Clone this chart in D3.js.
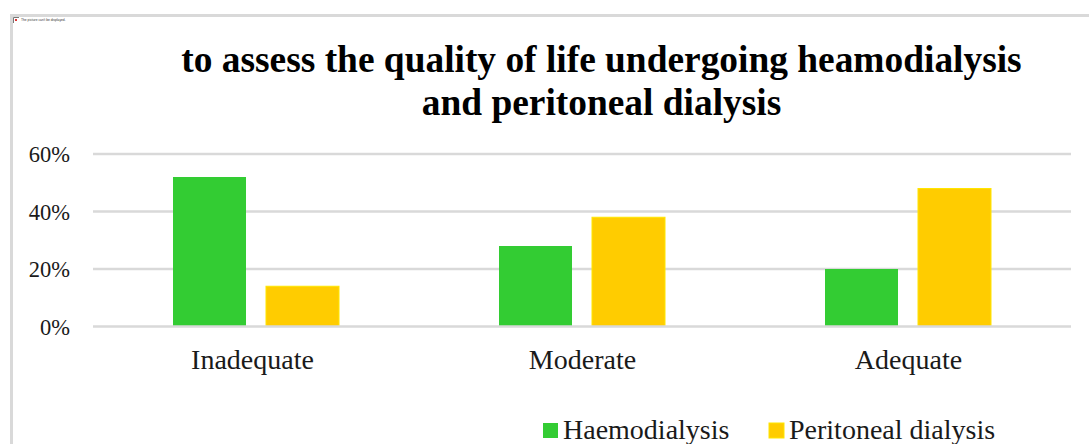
<!DOCTYPE html>
<html>
<head>
<meta charset="utf-8">
<script src="https://cdn.jsdelivr.net/npm/d3@7/dist/d3.min.js"></script>
<style>
html, body { margin: 0; padding: 0; background: #fff; overflow: hidden; }
svg { display: block; font-family: "Liberation Serif", serif; }
</style>
</head>
<body>
<svg id="chart" width="1089" height="444"></svg>
<script>
const categories = ["Inadequate", "Moderate", "Adequate"];
const seriesNames = ["Haemodialysis", "Peritoneal dialysis"];
const haemodialysis = [52, 28, 20];
const peritoneal = [14, 38, 48];
const yTicks = [0, 20, 40, 60];
const titleLines = ["to assess the quality of life undergoing heamodialysis", "and peritoneal dialysis"];
const brokenImageText = "The picture can't be displayed.";

const svg = d3.select("#chart");

// Frame left over from the source document
svg.append("path")
    .attr("d", "M11.5,444V15.5H1089")
    .attr("fill", "none")
    .attr("stroke", "#d9d9d9")
    .attr("stroke-width", 3);

// Broken image placeholder
svg.append("path").attr("d", "M13.5,23V17.5H19")
    .attr("fill", "none").attr("stroke", "#777").attr("stroke-width", 1);
svg.append("rect").attr("x", 15).attr("y", 19).attr("width", 2).attr("height", 2).attr("fill", "#d33");
svg.append("text").attr("x", 21).attr("y", 21)
    .style("font-family", "'Liberation Sans', sans-serif")
    .style("font-size", "3.3px").style("fill", "#333")
    .text(brokenImageText);

// Scales
const x0 = d3.scaleBand().domain(categories).range([93, 1071]);
const x1 = d3.scaleBand().domain(seriesNames).range([0, 166]).paddingInner(0.215);
const y = d3.scaleLinear().domain([0, 60]).range([326.5, 154]);

// Gridlines (the zero line goes on after the bars)
svg.append("g").selectAll("line")
    .data(yTicks.filter(d => d > 0))
    .enter()
    .append("line")
    .attr("x1", 93)
    .attr("x2", 1071)
    .attr("y1", d => y(d))
    .attr("y2", d => y(d))
    .attr("stroke", "#d9d9d9")
    .attr("stroke-width", 2.6);

// Y axis labels
svg.append("g").selectAll("text")
    .data(yTicks)
    .enter()
    .append("text")
    .attr("x", 70)
    .attr("y", d => y(d) + 8)
    .attr("text-anchor", "end")
    .style("font-size", "22.5px")
    .style("fill", "#1a1a1a")
    .text(d => d + "%");

// Bars
const colors = d3.scaleOrdinal().domain(seriesNames).range(["#33cc33", "#ffcc00"]);
const strokes = d3.scaleOrdinal().domain(seriesNames).range(["none", "#ffe600"]);
const seriesValues = [haemodialysis, peritoneal];

seriesNames.forEach((name, s) => {
    svg.append("g").selectAll("rect")
        .data(seriesValues[s])
        .enter()
        .append("rect")
        .attr("x", (d, i) => x0(categories[i]) + (x0.bandwidth() - 166) / 2 + x1(name))
        .attr("y", d => y(d))
        .attr("width", x1.bandwidth())
        .attr("height", d => y(0) - y(d))
        .attr("fill", colors(name))
        .attr("stroke", strokes(name))
        .attr("stroke-width", 1);
});

// Zero line on top of the bars
svg.append("line")
    .attr("x1", 93)
    .attr("x2", 1071)
    .attr("y1", y(0))
    .attr("y2", y(0))
    .attr("stroke", "#d9d9d9")
    .attr("stroke-width", 2.6);

// Category labels, the first one sits a little left of its group
svg.append("g").selectAll("text")
    .data(categories)
    .enter()
    .append("text")
    .attr("x", (d, i) => x0(d) + x0.bandwidth() / 2 + (i === 0 ? -3.5 : 0.5))
    .attr("y", 369)
    .attr("text-anchor", "middle")
    .style("font-size", "28px")
    .style("fill", "#1a1a1a")
    .text(d => d);

// Title
svg.append("g").selectAll("text")
    .data(titleLines)
    .enter()
    .append("text")
    .attr("x", 601.5)
    .attr("y", (d, i) => 72 + i * 43)
    .attr("text-anchor", "middle")
    .style("font-size", "37.4px")
    .style("font-weight", "bold")
    .style("fill", "#000")
    .text(d => d);

// Legend
const legendX = d3.scaleOrdinal().domain(seriesNames).range([543, 769]);
const legend = svg.append("g").selectAll("g")
    .data(seriesNames)
    .enter()
    .append("g")
    .attr("transform", d => `translate(${legendX(d)},423)`);

legend.append("rect")
    .attr("width", 15)
    .attr("height", 15)
    .attr("fill", d => colors(d))
    .attr("stroke", d => strokes(d))
    .attr("stroke-width", 1);

legend.append("text")
    .attr("x", 20)
    .attr("y", 16)
    .style("font-size", "28px")
    .style("fill", "#1a1a1a")
    .text(d => d);
</script>
</body>
</html>
